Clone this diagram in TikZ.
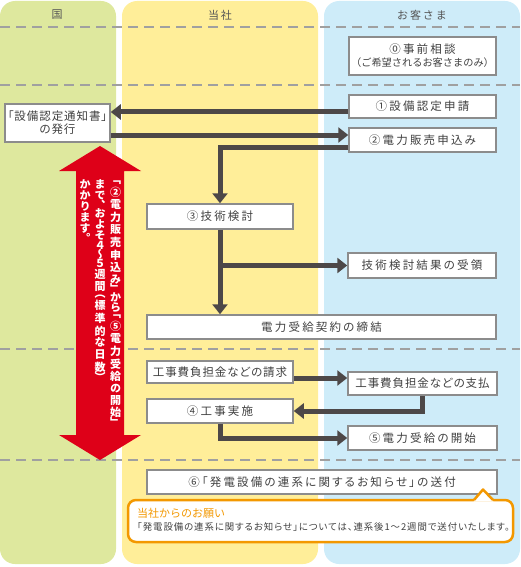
\documentclass[tikz,border=0pt]{standalone}
\usepackage{fontspec}
\usetikzlibrary{arrows.meta}
\setmainfont{Noto Sans CJK JP}
\newfontfamily\boxfont{Noto Sans CJK JP}[RawFeature=+palt, LetterSpace=19]
\newfontfamily\boxfontt{Noto Sans CJK JP}[RawFeature=+palt, LetterSpace=8]
\newfontfamily\notefont{Noto Sans CJK JP}[RawFeature=+palt, LetterSpace=10]
\newfontfamily\headfont{Noto Sans CJK JP}[LetterSpace=18]
\newfontfamily\plainjp{Noto Sans CJK JP}
\newfontfamily\vertfont{Noto Sans CJK JP}[RawFeature=+vert]
\definecolor{colG}{RGB}{222,232,158}
\definecolor{colY}{RGB}{255,238,153}
\definecolor{colB}{RGB}{206,236,249}
\definecolor{redA}{RGB}{222,0,24}
\definecolor{orangeC}{RGB}{243,152,0}
\definecolor{arrC}{RGB}{77,72,72}
\definecolor{boxC}{RGB}{140,140,140}
\definecolor{dashC}{RGB}{160,160,160}
\definecolor{txtC}{RGB}{64,64,64}
\definecolor{headC}{RGB}{85,85,85}
\newcommand\vcell[2]{\vbox to #1{\vss\hbox to 14pt{\hss#2\hss}\vss}}
\newcommand\vK[1]{\vcell{12.6pt}{#1}}
\newcommand\vH[1]{\vcell{11pt}{#1}}
\newcommand\vP[1]{\vcell{6.5pt}{#1}}
\newcommand\vD[1]{\vcell{9pt}{#1}}
\tikzset{
 box/.style={draw=boxC, line width=1.5pt, fill=white, text=txtC, inner sep=0pt, align=center,
   font=\boxfont\fontsize{11.5}{14}\selectfont},
 tightbox/.style={box, font=\boxfontt\fontsize{11.5}{14}\selectfont},
 flow/.style={draw=arrC, line width=5pt, -{Triangle[length=10pt,width=15pt]}},
 head/.style={text=headC, inner sep=0pt, font=\headfont\fontsize{11}{13}\selectfont},
 sep/.style={draw=dashC, line width=2pt, dash pattern=on 10pt off 6pt},
 vtext/.style={text=white, inner sep=0pt, font=\vertfont\bfseries\fontsize{11}{11}\selectfont},
}
\begin{document}
\begin{tikzpicture}[x=1pt,y=-1pt]
\useasboundingbox (0,0) rectangle (520,567);
% lanes
\fill[colG, rounded corners=15pt] (0,1) rectangle (116,564);
\fill[colY, rounded corners=15pt] (122,1) rectangle (318,564);
\fill[colB, rounded corners=15pt] (324,1) rectangle (520,564);
\node[head] (hG) at (57,15) {国};
\node[head] (hY) at (220,15) {当社};
\node[head] (hB) at (422,15) {お客さま};
\foreach \yy in {27,85,349,460} \draw[sep] (0,\yy) -- (520,\yy);
% boxes
\node[box, minimum width=147pt, minimum height=38pt] (b0) at (422.5,56)
  {⓪事前相談\\[-1pt]{\plainjp\fontsize{10.2}{12}\selectfont （ご希望されるお客さまのみ）}};
\node[box, minimum width=147pt, minimum height=23pt] (b1) at (422.5,106.5) {①設備認定申請};
\node[box, minimum width=147pt, minimum height=24pt] (b2) at (422.5,140) {②電力販売申込み};
\node[tightbox, minimum width=105pt, minimum height=38pt] (nt) at (57.5,123) {「設備認定通知書」\\[-1pt]の発行};
\node[box, minimum width=146pt, minimum height=25pt] (b3) at (220,216.5) {③技術検討};
\node[box, minimum width=148pt, minimum height=25pt] (res) at (422,265.5) {技術検討結果の受領};
\node[box, minimum width=349pt, minimum height=24pt] (ct) at (321.5,327) {電力受給契約の締結};
\node[tightbox, minimum width=146pt, minimum height=22pt] (cl) at (220,372) {工事費負担金などの請求};
\node[tightbox, minimum width=149pt, minimum height=23pt] (pay) at (422.5,383.5) {工事費負担金などの支払};
\node[box, minimum width=146pt, minimum height=24pt] (b4) at (220,411) {④工事実施};
\node[box, minimum width=149pt, minimum height=24pt] (b5) at (422.5,438) {⑤電力受給の開始};
\node[box, minimum width=350pt, minimum height=24pt] (b6) at (322,482) {⑥「発電設備の連系に関するお知らせ」の送付};
% connectors
\draw[flow] (b1.west |- 0,112) -- (nt.east |- 0,112);
\draw[flow] (nt.east |- 0,135) -- (b2.west |- 0,135);
\draw[flow] (b2.west |- 0,147) -| (b3.north);
\draw[flow] (b3.south) -- (b3.south |- ct.north);
\draw[flow] (b3.south |- res.west) -- (res.west);
\draw[flow] (cl.east |- 0,378) -- (pay.west |- 0,378);
\draw[flow] (pay.south) |- (b4.east);
\draw[flow] (b4.south) |- (b5.west);
% red double arrow
\fill[redA] (100,146) -- (141,171) -- (124,171) -- (124,435) -- (141,435) -- (100,460)
  -- (59,435) -- (76,435) -- (76,171) -- (59,171) -- cycle;
\node[vtext, anchor=north] (vt1) at (115.5,179) {\vbox{\offinterlineskip
 \vP{「}\vK{②}\vK{電}\vK{力}\vK{販}\vK{売}\vK{申}\vK{込}\vH{み}\vP{」}\vH{か}\vH{ら}%
 \vP{「}\vK{⑤}\vK{電}\vK{力}\vK{受}\vK{給}\vH{の}\vK{開}\vK{始}\vP{」}}};
\node[vtext, anchor=north] (vt2) at (100,179) {\vbox{\offinterlineskip
 \vH{ま}\vH{で}\vP{、}\vH{お}\vH{よ}\vH{そ}\vD{４}\vD{～}\vD{５}\vK{週}\vK{間}%
 \vP{（}\vK{標}\vK{準}\vK{的}\vH{な}\vK{日}\vK{数}\vP{）}}};
\node[vtext, anchor=north] (vt3) at (85,179) {\vbox{\offinterlineskip
 \vH{か}\vH{か}\vH{り}\vH{ま}\vH{す}\vP{。}}};
% callout
\draw[orangeC, line width=2.5pt, fill=white, rounded corners=8pt] (128,500) rectangle (513,542);
\fill[white] (473.5,501.6) -- (483,489.5) -- (493.5,501.6) -- cycle;
\draw[orangeC, line width=2.5pt, line join=round] (474,500) -- (483,489.5) -- (493,500);
\node[anchor=west, inner sep=0pt, text=orangeC, font=\plainjp\fontsize{11}{12}\selectfont] (ctitle) at (137,513) {当社からのお願い};
\node[anchor=west, inner sep=0pt, text=txtC, font=\notefont\fontsize{9.4}{11}\selectfont] (cbody) at (137,527) {「発電設備の連系に関するお知らせ」については、連系後1～2週間で送付いたします。};
\end{tikzpicture}
\end{document}
